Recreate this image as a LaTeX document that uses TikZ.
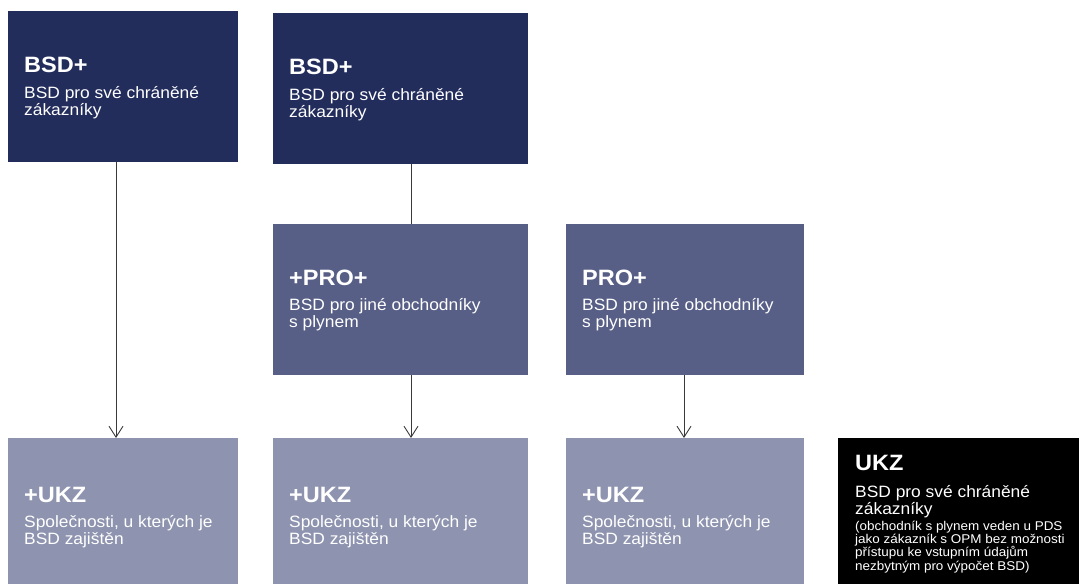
\documentclass[tikz,border=0pt]{standalone}
\usepackage{fontspec}
\setmainfont{Liberation Sans}[FakeStretch=1.06]
\usetikzlibrary{arrows.meta}
\definecolor{navy}{HTML}{232D5C}
\definecolor{midblue}{HTML}{585F86}
\definecolor{lightblue}{HTML}{8E93AF}
\definecolor{arrgray}{HTML}{3A3A3A}
\begin{document}
\begin{tikzpicture}[x=1pt,y=-1pt,
  box/.style={anchor=north west,inner sep=0pt,outer sep=0pt,draw=none},
  ttl/.style={anchor=base west,inner sep=0pt,text=white,font=\fontsize{22.2}{25}\selectfont\bfseries},
  bdy/.style={anchor=base west,inner sep=0pt,text=white,font=\fontsize{16.4}{18}\selectfont},
  sml/.style={anchor=base west,inner sep=0pt,text=white,font=\fontsize{12.7}{13}\selectfont},
  arr/.style={draw=arrgray,line width=0.9pt,-{Straight Barb[length=11pt,width=14pt,line width=0.9pt]}},
  ln/.style={draw=arrgray,line width=0.9pt}]
\useasboundingbox[fill=white] (0,0) rectangle (1079,584);
% boxes
\node[box,fill=navy,minimum width=230pt,minimum height=151pt] (b1) at (8,11) {};
\node[box,fill=navy,minimum width=255pt,minimum height=151pt] (b2) at (273,13) {};
\node[box,fill=midblue,minimum width=255pt,minimum height=151pt] (p1) at (273,224) {};
\node[box,fill=midblue,minimum width=238pt,minimum height=151pt] (p2) at (566,224) {};
\node[box,fill=lightblue,minimum width=230pt,minimum height=146pt] (u1) at (8,438) {};
\node[box,fill=lightblue,minimum width=255pt,minimum height=146pt] (u2) at (273,438) {};
\node[box,fill=lightblue,minimum width=238pt,minimum height=146pt] (u3) at (566,438) {};
\node[box,fill=black,minimum width=241pt,minimum height=146pt] (k) at (838,438) {};
% connector x positions
\coordinate (c1) at (116,0);
\coordinate (c2) at (411,0);
\coordinate (c3) at (684,0);
\draw[arr] (b1.south -| c1) -- (u1.north -| c1);
\draw[ln] (b2.south -| c2) -- (p1.north -| c2);
\draw[arr] (p1.south -| c2) -- (u2.north -| c2);
\draw[arr] (p2.south -| c3) -- (u3.north -| c3);
% texts
\node[ttl] (b1t) at (24,72) {BSD+};
\node[bdy] (b1a) at (24,98) {BSD pro své chráněné};
\node[bdy] (b1b) at (24,115) {zákazníky};
\node[ttl] (b2t) at (289,74) {BSD+};
\node[bdy] (b2a) at (289,100) {BSD pro své chráněné};
\node[bdy] (b2b) at (289,117) {zákazníky};
\node[ttl] (p1t) at (289,285) {+PRO+};
\node[bdy] (p1a) at (289,310) {BSD pro jiné obchodníky};
\node[bdy] (p1b) at (289,327) {s plynem};
\node[ttl] (p2t) at (582,285) {PRO+};
\node[bdy] (p2a) at (582,310) {BSD pro jiné obchodníky};
\node[bdy] (p2b) at (582,327) {s plynem};
\node[ttl] (u1t) at (24,502) {+UKZ};
\node[bdy] (u1a) at (24,527) {Společnosti, u kterých je};
\node[bdy] (u1b) at (24,544) {BSD zajištěn};
\node[ttl] (u2t) at (289,502) {+UKZ};
\node[bdy] (u2a) at (289,527) {Společnosti, u kterých je};
\node[bdy] (u2b) at (289,544) {BSD zajištěn};
\node[ttl] (u3t) at (582,502) {+UKZ};
\node[bdy] (u3a) at (582,527) {Společnosti, u kterých je};
\node[bdy] (u3b) at (582,544) {BSD zajištěn};
\node[ttl] (kt) at (855,470) {UKZ};
\node[bdy] (ka) at (855,497) {BSD pro své chráněné};
\node[bdy] (kb) at (855,514) {zákazníky};
\node[sml] (kc) at (855,530) {(obchodník s plynem veden u PDS};
\node[sml] (kd) at (855,543) {jako zákazník s OPM bez možnosti};
\node[sml] (ke) at (855,556) {přístupu ke vstupním údajům};
\node[sml] (kf) at (855,570) {nezbytným pro výpočet BSD)};
\end{tikzpicture}
\end{document}
